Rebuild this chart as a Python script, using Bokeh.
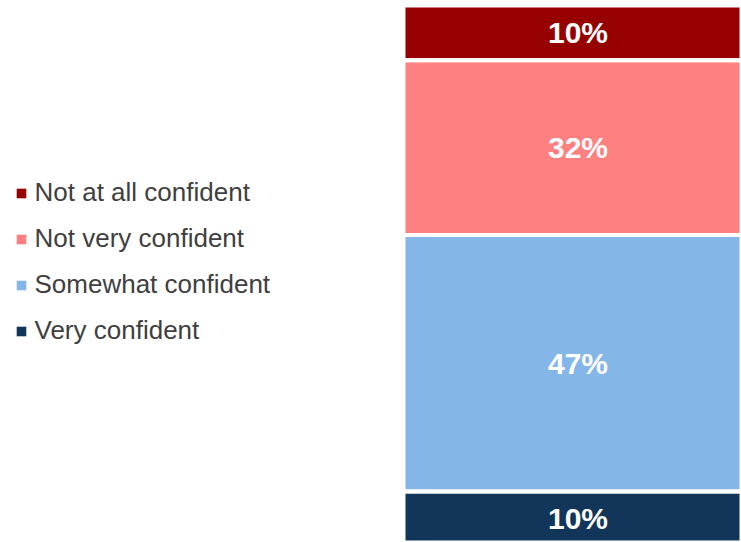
import numpy as np
from bokeh.plotting import figure
from bokeh.models import ColumnDataSource, Range1d, Legend, LegendItem
from bokeh.core.properties import value
from bokeh.embed import file_html
from bokeh.resources import INLINE

# Data (bottom to top of stack)
categories = ["Very confident", "Somewhat confident", "Not very confident", "Not at all confident"]
values = [10, 47, 32, 10]
labels = ["10%", "47%", "32%", "10%"]
colors = ["#12365A", "#85B6E8", "#FF8080", "#960000"]

tops = np.cumsum(values)
bottoms = tops - np.array(values)
mids = (tops + bottoms) / 2.0

p = figure(width=741, height=542, output_backend="svg", toolbar_location=None,
           x_range=Range1d(-1.6547, 0.4685), y_range=Range1d(0.66, 99.93),
           min_border=0, outline_line_color=None)
p.axis.visible = False
p.grid.visible = False
p.background_fill_color = "white"
p.border_fill_color = "white"

# fill-only segments (also used for the legend)
renderers = {}
for i, (cat, col) in enumerate(zip(categories, colors)):
    r = p.vbar(x=[0.0], bottom=[bottoms[i]], top=[tops[i]], width=1.0,
               fill_color=col, line_color=None)
    renderers[cat] = r

# white separators drawn over the segments
src = ColumnDataSource(dict(x=[0.0] * len(values), bottom=bottoms, top=tops,
                            label=labels, mid=mids))
p.vbar(x="x", bottom="bottom", top="top", width=1.0, fill_alpha=0,
       line_color="white", line_width=4, source=src)

p.text(x="x", y="mid", text="label", source=src, text_color="white",
       text_font=value("Liberation Sans"), text_font_style="bold",
       text_font_size="30px", text_align="center", text_baseline="middle")

items = [LegendItem(label=cat, renderers=[renderers[cat]]) for cat in reversed(categories)]

legend = Legend(items=items, location=(14.5, 196), glyph_width=12, glyph_height=12,
                label_text_font="Liberation Sans", label_text_font_size="26px",
                label_text_color="#404040", label_standoff=8, spacing=15,
                padding=0, margin=0, border_line_color=None,
                background_fill_alpha=0)
p.add_layout(legend)

open("out.html", "w").write(file_html(p, INLINE))
